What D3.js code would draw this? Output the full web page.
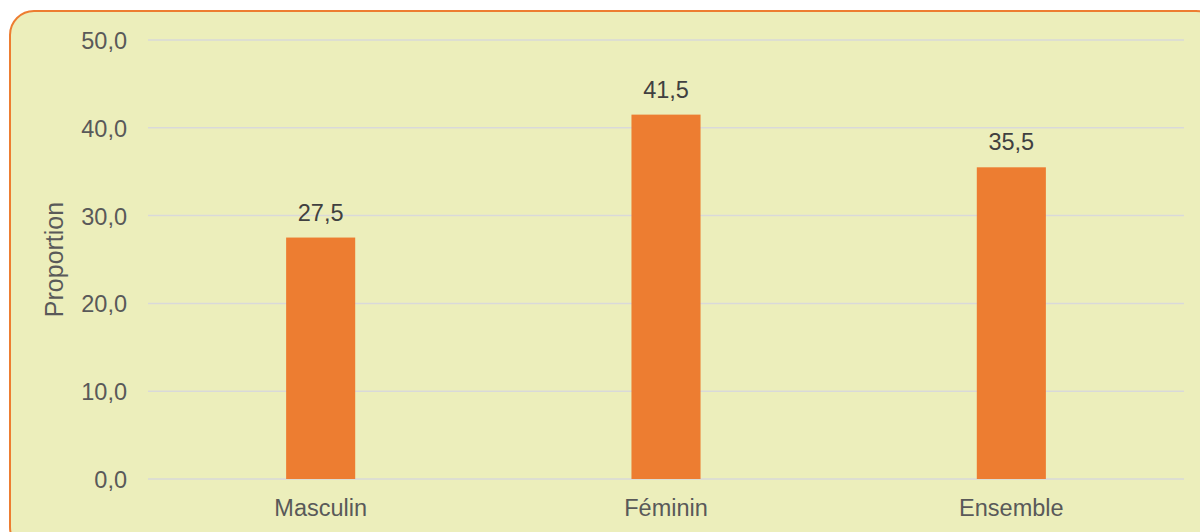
<!doctype html>
<html>
  <head>
    <meta charset="utf-8">
    <script src="https://cdnjs.cloudflare.com/ajax/libs/d3/7.8.5/d3.min.js"></script>
    <style>
      body { margin: 0; background: #fff; }
      svg { display: block; font-family: "Liberation Sans", Arial, sans-serif; }
      .grid line { stroke: #D9D9D9; stroke-width: 1.5; }
      .tick text { fill: #595959; font-size: 23.5px; }
    </style>
  </head>
  <body>
    <div id="chart"></div>
    <script>
      var categories = ["Masculin", "Féminin", "Ensemble"];
      var values = [27.5, 41.5, 35.5];
      var yTicks = [0, 10, 20, 30, 40, 50];

      var width = 1200, height = 532;
      var margin = { left: 148, right: 16, top: 40, bottom: 53 };

      var svg = d3.select("#chart").append("svg")
          .attr("width", width)
          .attr("height", height);

      // panel background with rounded border (runs off the right/bottom edge)
      svg.append("rect")
          .attr("x", 10).attr("y", 11)
          .attr("width", 1210).attr("height", 540)
          .attr("rx", 24).attr("ry", 24)
          .style("fill", "#ECEEBB")
          .style("stroke", "#ED7D31")
          .style("stroke-width", 2);

      var x = d3.scaleBand()
          .domain(categories)
          .range([margin.left, width - margin.right])
          .paddingInner(0.8)
          .paddingOuter(0.4);

      var y = d3.scaleLinear()
          .domain([0, 50])
          .range([height - margin.bottom, margin.top]);

      var fmt = function(v) { return d3.format(".1f")(v).replace(".", ","); };

      // gridlines
      svg.append("g").attr("class", "grid")
        .selectAll("line")
        .data(yTicks)
        .enter().append("line")
          .attr("x1", margin.left).attr("x2", width - margin.right)
          .attr("y1", d => y(d)).attr("y2", d => y(d));

      // y axis labels
      var yAxis = d3.axisLeft(y).tickValues(yTicks).tickFormat(fmt).tickSize(0).tickPadding(21);
      svg.append("g")
          .attr("transform", "translate(" + margin.left + ",0)")
          .call(yAxis)
          .call(g => g.select(".domain").remove())
          .selectAll("text").attr("dy", "0.36em");

      // bars
      svg.selectAll("rect.bar")
        .data(values)
        .enter().append("rect")
          .attr("class", "bar")
          .attr("x", (d, i) => x(categories[i]))
          .attr("width", x.bandwidth())
          .attr("y", d => y(d))
          .attr("height", d => y(0) - y(d))
          .style("fill", "#ED7D31");

      // value labels
      svg.selectAll("text.val")
        .data(values)
        .enter().append("text")
          .attr("class", "val")
          .attr("x", (d, i) => x(categories[i]) + x.bandwidth() / 2)
          .attr("y", d => y(d) - 17)
          .attr("text-anchor", "middle")
          .style("fill", "#404040")
          .style("font-size", "23.5px")
          .text(fmt);

      // x axis labels
      var xAxis = d3.axisBottom(x).tickSize(0).tickPadding(20);
      svg.append("g")
          .attr("transform", "translate(0," + y(0) + ")")
          .call(xAxis)
          .call(g => g.select(".domain").remove());

      // axis title
      svg.append("text")
          .attr("transform", "translate(63," + ((y(0) + y(50)) / 2) + ") rotate(-90)")
          .attr("text-anchor", "middle")
          .style("fill", "#595959")
          .style("font-size", "25px")
          .text("Proportion");
    </script>
  </body>
</html>
